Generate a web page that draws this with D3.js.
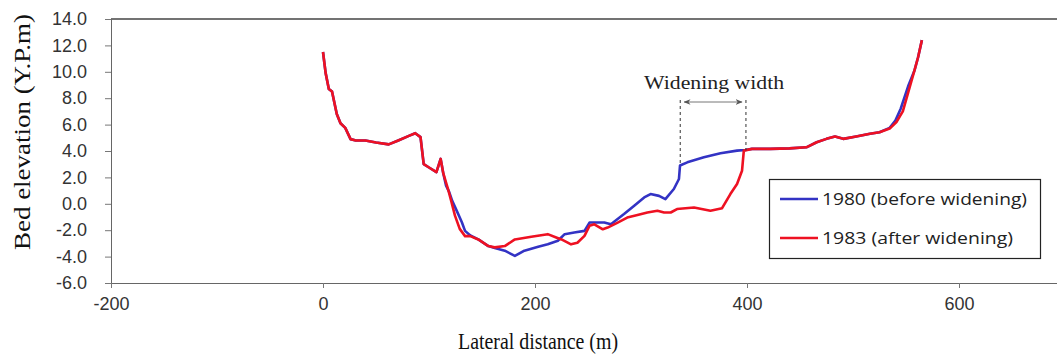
<!DOCTYPE html>
<html><head><meta charset="utf-8">
<script src="https://d3js.org/d3.v7.min.js"></script>
<style>html,body{margin:0;padding:0;background:#fff;}svg{display:block;}</style>
</head><body><svg id="chart" width="1057" height="356"></svg>
<script>
// ---- data ----
const dist1983 = [0,2.5,5.5,8.5,13,16.5,21,26,31,40,50,62,71,81,87,92,95,100,107,111,113.5,118,121,124.5,129,134,139,146.5,156,162,171.5,181,196.5,212,220,225,234,240,246.7,251.4,256,264,268.5,278,287,296.7,306,315.5,321.8,328,334,350,365.5,376.5,384.3,390.6,395.3,397,404.7,422,440,456,465.7,475,483,490.8,503,516,525,534.6,541,547,553.5,558,561.4,565];
const elev1983 = [11.5,9.9,8.7,8.5,6.8,6.1,5.75,4.9,4.8,4.8,4.65,4.5,4.8,5.15,5.35,5.05,3.0,2.75,2.4,3.4,2.3,1.1,0.2,-0.9,-1.9,-2.45,-2.45,-2.7,-3.2,-3.3,-3.2,-2.7,-2.5,-2.3,-2.55,-2.7,-3.07,-2.95,-2.43,-1.67,-1.55,-1.93,-1.8,-1.42,-1.04,-0.85,-0.66,-0.53,-0.66,-0.66,-0.4,-0.28,-0.53,-0.33,0.74,1.5,2.5,4.03,4.16,4.16,4.2,4.28,4.66,4.92,5.1,4.92,5.1,5.3,5.42,5.7,6.2,7.0,8.84,10.1,11.1,12.4];
const dist1980 = [0,2.5,5.5,8.5,13,16.5,21,26,31,40,50,62,71,81,87,92,95,100,107,111,113.5,116,119,122,126,131,134,139,146.5,156,162,171.5,181,190,203,212,221.6,228,237,246.7,251.4,265.4,271.6,284,293.6,303,309,317,323,331,335.8,336.8,343.7,359.3,375,390.6,398.4,404.7,422,440,456,465.7,475,483,490.8,503,516,525,534.6,540,545,552,558,561.4,565];
const elev1980 = [11.5,9.9,8.7,8.5,6.8,6.1,5.75,4.9,4.8,4.8,4.65,4.5,4.8,5.15,5.35,5.05,3.0,2.75,2.4,3.4,2.3,1.4,0.9,0.2,-0.5,-1.4,-2.05,-2.4,-2.7,-3.2,-3.35,-3.55,-3.95,-3.55,-3.25,-3.07,-2.8,-2.3,-2.18,-2.05,-1.42,-1.42,-1.55,-0.78,-0.15,0.48,0.74,0.6,0.36,1.12,1.88,2.9,3.14,3.52,3.83,4.03,4.08,4.16,4.16,4.2,4.28,4.66,4.92,5.1,4.92,5.1,5.3,5.42,5.75,6.3,7.2,8.9,10.1,11.1,12.4];
const seriesNames = ["1980 (before widening)", "1983 (after widening)"];
const xTicks = [-200, 0, 200, 400, 600];
const yTicks = [-6, -4, -2, 0, 2, 4, 6, 8, 10, 12, 14];
const widenStart = 337, widenEnd = 399;   // lateral distance (m)
const widenLabel = "Widening width";

// ---- layout ----
const svg = d3.select("#chart");
const x = d3.scaleLinear().domain([-200, 800]).range([111, 1171]);
const y = d3.scaleLinear().domain([-6, 14]).range([283, 19]);

const tickFont = "'Liberation Sans', Arial, sans-serif";
const serif = "'Liberation Serif', 'Times New Roman', serif";
const hyphen = s => s.replace("\u2212", "-");

// top border of plot area
svg.append("line").attr("x1", x(-200)).attr("x2", 1057).attr("y1", y(14)).attr("y2", y(14))
  .attr("stroke", "#444").attr("stroke-width", 1.5);

// y axis
const yAxis = svg.append("g").attr("transform", `translate(${x(-200)},0)`)
  .call(d3.axisLeft(y).tickValues(yTicks).tickFormat(d => hyphen(d3.format(".1f")(d))).tickSize(6).tickPadding(18));
yAxis.select(".domain").attr("stroke", "#666");
yAxis.selectAll(".tick line").attr("stroke", "#777");
yAxis.selectAll("text").attr("font-family", tickFont).attr("font-size", 18).attr("fill", "#333");

// x axis
const xAxis = svg.append("g").attr("transform", `translate(0,${y(-6)})`)
  .call(d3.axisBottom(x).tickValues(xTicks).tickFormat(d => hyphen(d3.format("d")(d))).tickSize(5).tickPadding(9));
xAxis.select(".domain").attr("stroke", "#666");
xAxis.selectAll(".tick line").attr("stroke", "#777");
xAxis.selectAll("text").attr("font-family", tickFont).attr("font-size", 18).attr("fill", "#333");

// axis titles
svg.append("text").attr("transform", `translate(30,132) rotate(-90)`)
  .attr("text-anchor", "middle").attr("font-family", serif).attr("font-size", 23).attr("fill", "#111")
  .attr("textLength", 236).attr("lengthAdjust", "spacingAndGlyphs")
  .text("Bed elevation (Y.P.m)");
svg.append("text").attr("x", 538).attr("y", 349).attr("text-anchor", "middle")
  .attr("font-family", serif).attr("font-size", 23).attr("fill", "#111")
  .attr("textLength", 160).attr("lengthAdjust", "spacingAndGlyphs")
  .text("Lateral distance (m)");

// series
const colors = ["#3333c4", "#ee1122"];
const line = d3.line().x(d => x(d[0])).y(d => y(d[1]));
const s1980 = d3.zip(dist1980, elev1980);
const s1983 = d3.zip(dist1983, elev1983);
svg.append("path").datum(s1980).attr("d", line).attr("fill", "none")
  .attr("stroke", colors[0]).attr("stroke-width", 2.6).attr("stroke-linejoin", "round");
svg.append("path").datum(s1983).attr("d", line).attr("fill", "none")
  .attr("stroke", colors[1]).attr("stroke-width", 2.6).attr("stroke-linejoin", "round");

// annotation
const arrowY = 102;
svg.append("line").attr("x1", x(widenStart)).attr("x2", x(widenStart)).attr("y1", arrowY - 2).attr("y2", y(2.9))
  .attr("stroke", "#333").attr("stroke-width", 1).attr("stroke-dasharray", "3,3");
svg.append("line").attr("x1", x(widenEnd)).attr("x2", x(widenEnd)).attr("y1", arrowY - 2).attr("y2", y(4.05))
  .attr("stroke", "#333").attr("stroke-width", 1).attr("stroke-dasharray", "3,3");
const defs = svg.append("defs");
defs.append("marker").attr("id", "ah").attr("viewBox", "0 0 10 10").attr("refX", 9).attr("refY", 5)
  .attr("markerWidth", 7).attr("markerHeight", 7).attr("orient", "auto-start-reverse")
  .append("path").attr("d", "M0,1 L10,5 L0,9 L3,5 Z").attr("fill", "#555");
svg.append("line").attr("x1", x(widenStart) + 4).attr("x2", x(widenEnd) - 4).attr("y1", arrowY).attr("y2", arrowY)
  .attr("stroke", "#777").attr("stroke-width", 1)
  .attr("marker-start", "url(#ah)").attr("marker-end", "url(#ah)");
svg.append("text").attr("x", (x(widenStart) + x(widenEnd)) / 2 + 1).attr("y", 89).attr("text-anchor", "middle")
  .attr("font-family", serif).attr("font-size", 19).attr("fill", "#222")
  .attr("textLength", 140).attr("lengthAdjust", "spacingAndGlyphs")
  .text(widenLabel);

// legend
const lg = svg.append("g");
lg.append("rect").attr("x", 769.5).attr("y", 179.5).attr("width", 271).attr("height", 79)
  .attr("fill", "#fff").attr("stroke", "#222").attr("stroke-width", 1.2);
seriesNames.forEach((name, i) => {
  const ly = 199 + i * 39;
  lg.append("line").attr("x1", 780).attr("x2", 818).attr("y1", ly).attr("y2", ly)
    .attr("stroke", colors[i]).attr("stroke-width", 2.6);
  lg.append("text").attr("x", 822).attr("y", ly + 6).attr("font-family", "'Open Sans', sans-serif").attr("font-size", 17)
    .attr("fill", "#222").attr("textLength", i === 0 ? 205 : 191).attr("lengthAdjust", "spacingAndGlyphs").text(name);
});
</script></body></html>
